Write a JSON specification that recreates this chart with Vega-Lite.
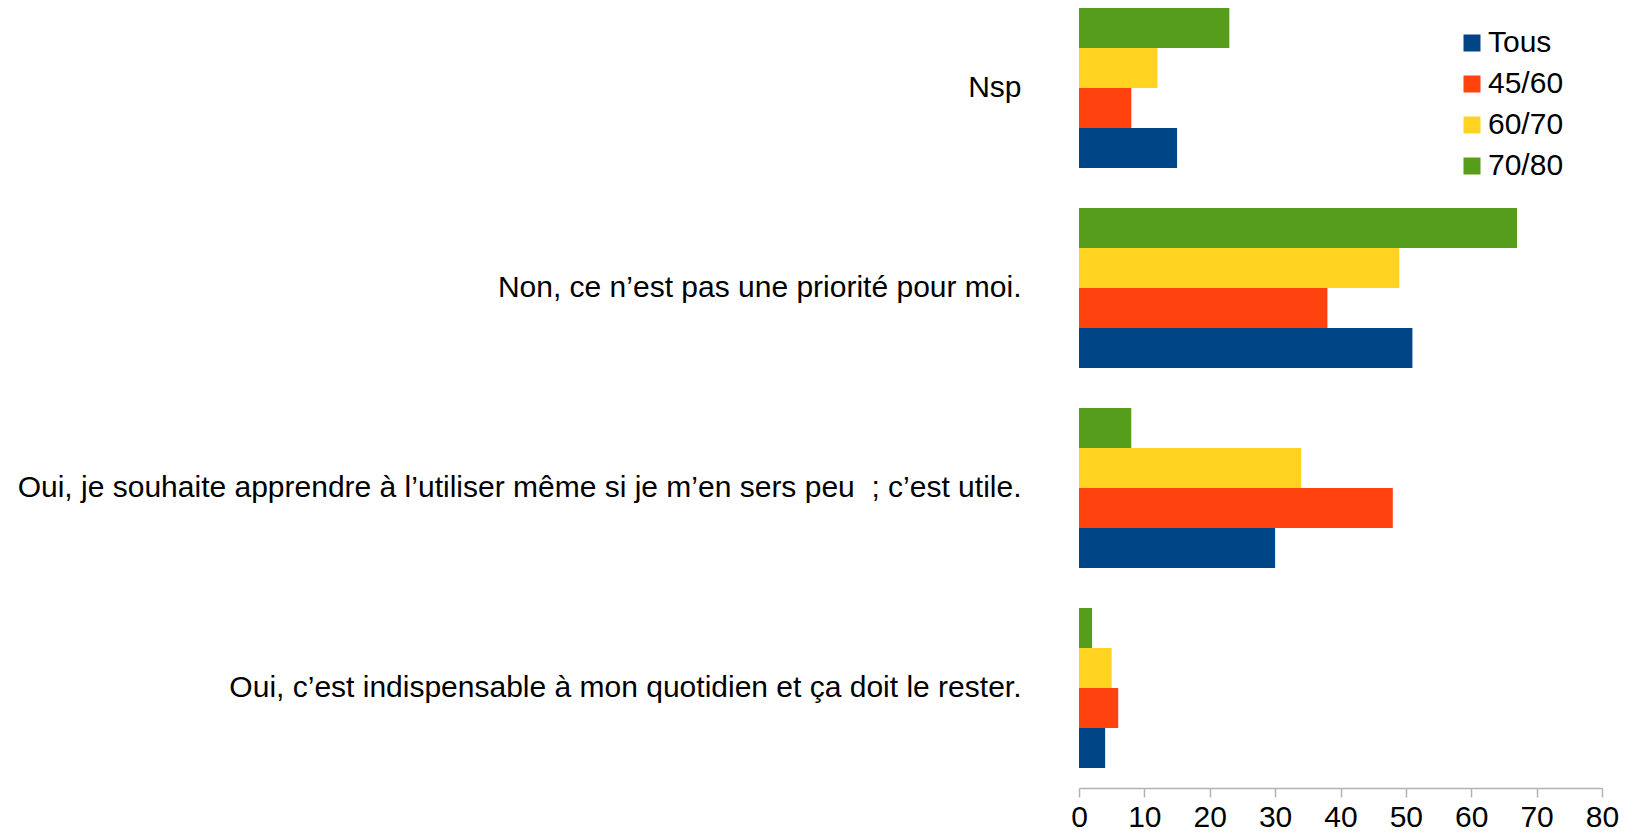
{
  "$schema": "https://vega.github.io/schema/vega-lite/v6.json",
  "autosize": {"type": "none"},
  "padding": {"left": 1079, "top": 0, "right": 23, "bottom": 57},
  "width": 523,
  "height": 776,
  "background": "white",
  "config": {"view": {"stroke": null}, "font": "Liberation Sans"},
  "data": {
    "values": [
      {"reponse": "Nsp", "groupe": "Tous", "valeur": 15},
      {"reponse": "Nsp", "groupe": "45/60", "valeur": 8},
      {"reponse": "Nsp", "groupe": "60/70", "valeur": 12},
      {"reponse": "Nsp", "groupe": "70/80", "valeur": 23},
      {"reponse": "Non, ce n’est pas une priorité pour moi.", "groupe": "Tous", "valeur": 51},
      {"reponse": "Non, ce n’est pas une priorité pour moi.", "groupe": "45/60", "valeur": 38},
      {"reponse": "Non, ce n’est pas une priorité pour moi.", "groupe": "60/70", "valeur": 49},
      {"reponse": "Non, ce n’est pas une priorité pour moi.", "groupe": "70/80", "valeur": 67},
      {"reponse": "Oui, je souhaite apprendre à l’utiliser même si je m’en sers peu \u00a0; c’est utile.", "groupe": "Tous", "valeur": 30},
      {"reponse": "Oui, je souhaite apprendre à l’utiliser même si je m’en sers peu \u00a0; c’est utile.", "groupe": "45/60", "valeur": 48},
      {"reponse": "Oui, je souhaite apprendre à l’utiliser même si je m’en sers peu \u00a0; c’est utile.", "groupe": "60/70", "valeur": 34},
      {"reponse": "Oui, je souhaite apprendre à l’utiliser même si je m’en sers peu \u00a0; c’est utile.", "groupe": "70/80", "valeur": 8},
      {"reponse": "Oui, c’est indispensable à mon quotidien et ça doit le rester.", "groupe": "Tous", "valeur": 4},
      {"reponse": "Oui, c’est indispensable à mon quotidien et ça doit le rester.", "groupe": "45/60", "valeur": 6},
      {"reponse": "Oui, c’est indispensable à mon quotidien et ça doit le rester.", "groupe": "60/70", "valeur": 5},
      {"reponse": "Oui, c’est indispensable à mon quotidien et ça doit le rester.", "groupe": "70/80", "valeur": 2}
    ]
  },
  "mark": {"type": "bar"},
  "encoding": {
    "y": {
      "field": "reponse",
      "type": "nominal",
      "sort": [
        "Nsp",
        "Non, ce n’est pas une priorité pour moi.",
        "Oui, je souhaite apprendre à l’utiliser même si je m’en sers peu \u00a0; c’est utile.",
        "Oui, c’est indispensable à mon quotidien et ça doit le rester."
      ],
      "scale": {"paddingInner": 0.2, "paddingOuter": 0.04},
      "axis": {
        "title": null,
        "domain": false,
        "ticks": false,
        "tickSize": 0,
        "labelPadding": 58,
        "labelFontSize": 30,
        "labelColor": "#000000",
        "labelLimit": 1100,
        "labelFont": "Liberation Sans"
      }
    },
    "yOffset": {
      "field": "groupe",
      "sort": ["70/80", "60/70", "45/60", "Tous"],
      "scale": {"paddingInner": 0, "paddingOuter": 0}
    },
    "x": {
      "field": "valeur",
      "type": "quantitative",
      "scale": {"domain": [0, 80]},
      "axis": {
        "title": null,
        "values": [0, 10, 20, 30, 40, 50, 60, 70, 80],
        "grid": false,
        "domainColor": "#b3b3b3",
        "domainWidth": 1.5,
        "tickColor": "#b3b3b3",
        "tickWidth": 1.5,
        "tickSize": 9,
        "labelPadding": 5,
        "labelFontSize": 30,
        "labelColor": "#000000",
        "labelFont": "Liberation Sans",
        "labelFlush": false,
        "labelOverlap": false,
        "offset": 12
      }
    },
    "color": {
      "field": "groupe",
      "type": "nominal",
      "scale": {
        "domain": ["Tous", "45/60", "60/70", "70/80"],
        "range": ["#004586", "#ff420e", "#ffd320", "#579d1c"]
      },
      "legend": {
        "title": null,
        "orient": "none",
        "legendX": 378,
        "legendY": 28,
        "padding": 0,
        "symbolType": "square",
        "symbolSize": 289,
        "symbolStrokeWidth": 0,
        "labelFontSize": 30,
        "labelFont": "Liberation Sans",
        "labelColor": "#000000",
        "labelOffset": 1,
        "rowPadding": 11
      }
    }
  }
}
